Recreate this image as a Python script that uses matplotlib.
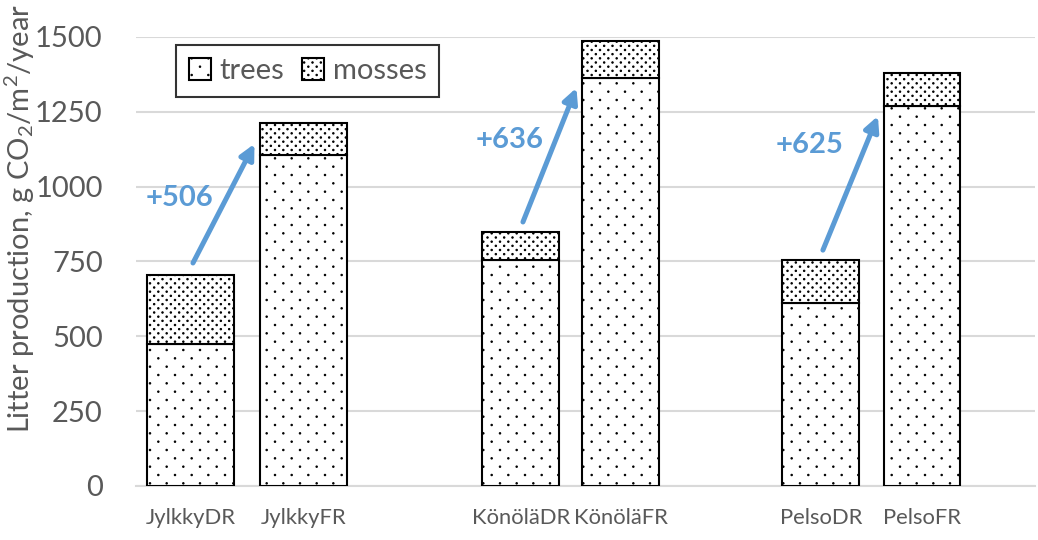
import numpy as np
import matplotlib
matplotlib.use("Agg")
import matplotlib.pyplot as plt
import matplotlib.hatch as mhatch
from matplotlib.path import Path

plt.rcParams['font.family'] = ['Lato', 'DejaVu Sans']
plt.rcParams['mathtext.default'] = 'regular'
plt.rcParams['hatch.linewidth'] = 0.7

# data
sites = ["JylkkyDR", "JylkkyFR", "KönöläDR", "KönöläFR", "PelsoDR", "PelsoFR"]
trees = [475, 1105, 755, 1362, 610, 1270]
mosses = [230, 106, 95, 124, 145, 110]
gains = ["+506", "+636", "+625"]
arrow_from = [745, 882, 788]
arrow_to = [1143, 1330, 1236]
gain_label_y = [962, 1156, 1139]


# Excel-like dot fills: staggered dots, rows twice as close as columns
class StaggeredDots(mhatch.HatchPatternBase):
    radius = 0.0075

    def __init__(self, hatch, density):
        n = hatch.count('.') * density
        pts = []
        for r in range(2 * n + 1) if n else []:
            if r % 2 == 0:
                xs = np.linspace(0, 1, n + 1)
            else:
                xs = (np.arange(n) + 0.5) / n
            pts += [(x, r / (2 * n)) for x in xs]
        self.centers = np.array(pts).reshape(-1, 2)
        self.circle = Path.unit_circle()
        self.num_vertices = len(self.centers) * len(self.circle.vertices)

    def set_vertices_and_codes(self, vertices, codes):
        shape = self.circle.vertices * self.radius
        vertices[:] = np.concatenate([shape + c for c in self.centers])
        codes[:] = np.tile(self.circle.codes, len(self.centers))


mhatch._hatch_types = [t for t in mhatch._hatch_types
                       if t is not mhatch.SmallFilledCircles] + [StaggeredDots]

# layout
xpos = np.array([0, 1.13, 3.30, 4.30, 6.30, 7.31])
widths = np.array([0.87, 0.87, 0.77, 0.77, 0.77, 0.76])
grey = "#595959"
blue = "#5B9BD5"

fig = plt.figure(figsize=(10.38, 5.40), dpi=100)
ax = fig.add_axes([0.131, 0.10, 0.866, 0.8315])

ax.bar(xpos, trees, width=widths, color="white", edgecolor="black",
       linewidth=1.5, hatch=".", label="trees", zorder=3)
ax.bar(xpos, mosses, width=widths, bottom=trees, color="white",
       edgecolor="black", linewidth=1.5, hatch="..", label="mosses", zorder=3)

# arrows between DR and FR bars
for i in range(3):
    dr = 2 * i
    fr = 2 * i + 1
    x0 = xpos[dr] + 0.02
    x1 = xpos[fr] - widths[fr] / 2 - 0.06
    ax.annotate("", xy=(x1, arrow_to[i]), xytext=(x0, arrow_from[i]),
                arrowprops=dict(arrowstyle="-|>", color=blue, lw=3.6,
                                mutation_scale=22, shrinkA=0, shrinkB=0),
                zorder=4)
    ax.text(x0 - 0.13, gain_label_y[i], gains[i], color=blue, fontsize=21,
            fontweight="bold", ha="center", va="center", zorder=4)

ax.set_xlim(-0.55, 8.44)
ax.set_ylim(0, 1500)
ax.set_yticks(np.arange(0, 1501, 250))
ax.set_xticks(xpos)
ax.set_xticklabels(sites)
ax.tick_params(axis="y", length=0, pad=24, labelsize=21, labelcolor=grey)
ax.tick_params(axis="x", length=0, pad=16, labelsize=15.8, labelcolor=grey)

ax.grid(axis="y", color="#D9D9D9", linewidth=1.5, zorder=0)
for s in ["top", "right", "left"]:
    ax.spines[s].set_visible(False)
ax.spines["bottom"].set_color("#D9D9D9")
ax.spines["bottom"].set_linewidth(1.5)

fig.text(0.019, 1 - 218 / 540, "Litter production, g CO$_2$/m$^2$/year",
         rotation=90, ha="center", va="center", fontsize=21, color=grey)

leg = ax.legend(loc="upper left", bbox_to_anchor=(0.0445, 0.982), ncol=2,
                frameon=True, fancybox=False, edgecolor="black", fontsize=21,
                handlelength=0.75, handleheight=0.75, handletextpad=0.3,
                columnspacing=0.6, borderaxespad=0, borderpad=0.45)
leg.get_frame().set_linewidth(1.5)
for t in leg.get_texts():
    t.set_color(grey)

fig.savefig("out.png", dpi=100)
